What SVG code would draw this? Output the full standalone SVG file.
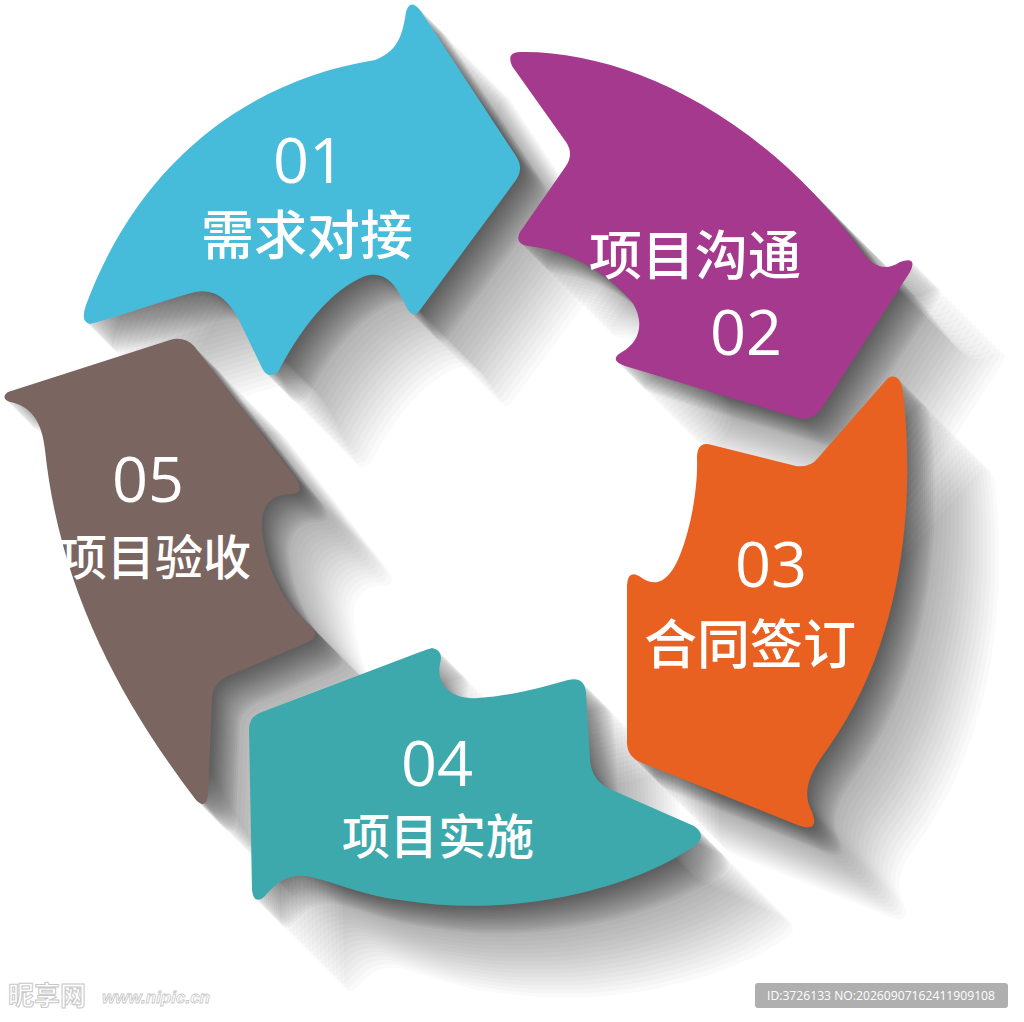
<svg xmlns="http://www.w3.org/2000/svg" xmlns:xlink="http://www.w3.org/1999/xlink" width="1024" height="1022" viewBox="0 0 1024 1022">
<style>
.num{font-family:"Open Sans","Noto Sans",sans-serif;font-size:63px;fill:#fff;text-anchor:middle}
.lbl{font-family:"Noto Sans CJK SC","Noto Sans",sans-serif;font-size:53px;font-weight:500;fill:#fff;text-anchor:middle}
.lbl2{font-family:"Noto Sans CJK SC","Noto Sans",sans-serif;font-size:48px;font-weight:500;fill:#fff;text-anchor:middle}
.sa{fill:#000;fill-opacity:0.038}
.sb{fill:#000;fill-opacity:0.02}
</style>
<defs>
<path id="p01" d="M90,324 C120,316 165,300 195,292 C215,288 228,300 238,318 L262,368 Q268,380 278,372 C300,330 330,290 365,276 C385,270 395,285 402,298 L408,310 Q414,318 420,310 L516,180 Q524,168 516,156 L420,10 Q410,-2 406,12 C402,40 395,52 375,60 C250,80 140,160 86,305 Q80,322 90,324 Z"/>
<path id="p02" d="M520,52 C620,50 760,110 862,252 C872,266 885,272 900,262 Q918,256 910,272 L822,408 Q812,422 798,418 L625,366 Q608,360 622,352 C640,342 645,322 632,302 C610,275 570,250 528,246 Q514,244 520,232 L566,166 Q574,154 566,142 L512,66 Q506,52 520,52 Z"/>
<path id="p03" d="M888,378 Q900,372 903,392 C915,500 905,640 828,748 C812,770 800,790 812,812 Q820,832 800,826 L640,762 Q626,756 627,740 L627,585 Q628,568 642,578 C660,590 672,575 680,555 C692,525 698,485 697,458 Q697,440 712,445 L796,466 Q810,468 818,458 Z"/>
<path id="p04" d="M432,648 Q444,650 440,664 C436,684 450,700 478,698 C510,696 540,688 568,680 Q584,676 586,692 L590,760 Q592,782 612,790 L694,826 Q708,836 694,846 C640,885 520,920 400,900 C360,895 330,880 305,876 C285,874 275,885 265,896 Q254,906 252,890 L249,730 Q249,716 262,712 L420,652 Q428,649 432,648 Z"/>
<path id="p05" d="M8,392 L170,340 Q184,336 194,346 L296,478 Q306,494 290,494 C268,494 260,510 262,530 C266,570 285,605 310,625 Q322,636 306,643 L228,676 Q212,684 212,700 L208,795 Q206,810 196,800 C120,700 60,590 45,450 C42,420 30,406 10,402 Q0,398 8,392 Z"/>
<g id="all"><use xlink:href="#p01"/><use xlink:href="#p02"/><use xlink:href="#p03"/><use xlink:href="#p04"/><use xlink:href="#p05"/></g>
</defs>
<rect width="1024" height="1022" fill="#fff"/>
<g id="shadows">
<use xlink:href="#all" class="sa" transform="translate(2,2)"/>
<use xlink:href="#all" class="sa" transform="translate(4,4)"/>
<use xlink:href="#all" class="sa" transform="translate(6,6)"/>
<use xlink:href="#all" class="sa" transform="translate(8,8)"/>
<use xlink:href="#all" class="sa" transform="translate(10,10)"/>
<use xlink:href="#all" class="sa" transform="translate(12,12)"/>
<use xlink:href="#all" class="sa" transform="translate(14,14)"/>
<use xlink:href="#all" class="sa" transform="translate(16,16)"/>
<use xlink:href="#all" class="sa" transform="translate(18,18)"/>
<use xlink:href="#all" class="sa" transform="translate(20,20)"/>
<use xlink:href="#all" class="sa" transform="translate(22,22)"/>
<use xlink:href="#all" class="sa" transform="translate(24,24)"/>
<use xlink:href="#all" class="sa" transform="translate(26,26)"/>
<use xlink:href="#all" class="sa" transform="translate(28,28)"/>
<use xlink:href="#all" class="sb" transform="translate(32,32)"/>
<use xlink:href="#all" class="sb" transform="translate(36,36)"/>
<use xlink:href="#all" class="sb" transform="translate(40,40)"/>
<use xlink:href="#all" class="sb" transform="translate(44,44)"/>
<use xlink:href="#all" class="sb" transform="translate(48,48)"/>
<use xlink:href="#all" class="sb" transform="translate(52,52)"/>
<use xlink:href="#all" class="sb" transform="translate(56,56)"/>
<use xlink:href="#all" class="sb" transform="translate(60,60)"/>
<use xlink:href="#all" class="sb" transform="translate(64,64)"/>
<use xlink:href="#all" class="sb" transform="translate(68,68)"/>
<use xlink:href="#all" class="sb" transform="translate(72,72)"/>
<use xlink:href="#all" class="sb" transform="translate(76,76)"/>
<use xlink:href="#all" class="sb" transform="translate(80,80)"/>
<use xlink:href="#all" class="sb" transform="translate(84,84)"/>
<use xlink:href="#all" class="sb" transform="translate(88,88)"/>
<use xlink:href="#all" class="sb" transform="translate(92,92)"/>
</g>
<g id="connectors"/>
<g id="step01">
<use xlink:href="#p01" fill="#46bbda"/>
<text class="num" x="309" y="183">01</text>
<text class="lbl" x="307" y="255">需求对接</text>
</g>
<g id="step02">
<use xlink:href="#p02" fill="#a4398e"/>
<text class="lbl" x="695" y="275">项目沟通</text>
<text class="num" x="746" y="355">02</text>
</g>
<g id="step03">
<use xlink:href="#p03" fill="#e96121"/>
<text class="num" x="771" y="587">03</text>
<text class="lbl" x="750" y="664">合同签订</text>
</g>
<g id="step04">
<use xlink:href="#p04" fill="#3ea9ac"/>
<text class="num" x="437" y="786">04</text>
<text class="lbl2" x="438" y="854">项目实施</text>
</g>
<g id="step05">
<use xlink:href="#p05" fill="#7a6560"/>
<text class="num" x="148" y="502">05</text>
<text class="lbl2" x="155" y="575">项目验收</text>
</g>
<g id="watermark">
<text x="8" y="1005" font-family="Noto Sans CJK SC, sans-serif" font-size="26" font-weight="bold" fill="#fff" stroke="#c8c8c8" stroke-width="1">昵享网</text>
<text x="102" y="1003" font-family="Liberation Sans, sans-serif" font-size="17" font-style="italic" font-weight="bold" fill="#fff" stroke="#c8c8c8" stroke-width="0.8">www.nipic.cn</text>
<rect x="755" y="983" width="253" height="25" rx="3" fill="#afafaf"/>
<text x="767" y="1000" font-family="Open Sans, sans-serif" font-size="13.5" fill="#fff" textLength="228" lengthAdjust="spacingAndGlyphs">ID:3726133 NO:20260907162411909108</text>
</g>
</svg>
